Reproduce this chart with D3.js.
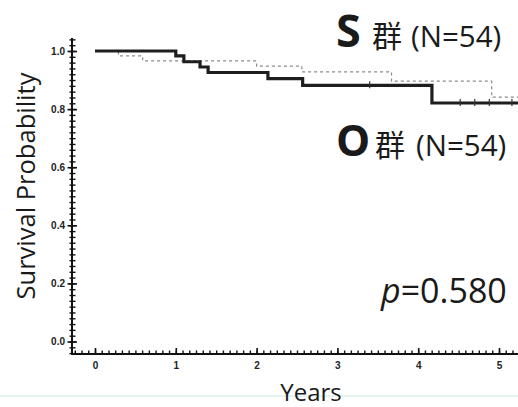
<!DOCTYPE html>
<html>
<head>
<meta charset="utf-8">
<script src="https://cdn.jsdelivr.net/npm/d3@7"></script>
<style>
  body { margin: 0; background: #fff; }
  svg { display: block; }
</style>
</head>
<body>
<div class="km"></div>
<script>
// survival curves (years, survival probability)
var sTimes = [0, 0.29, 0.59, 2.0, 2.56, 3.67, 4.91, 5.25];
var sSurv  = [1.0, 0.983, 0.966, 0.948, 0.928, 0.896, 0.841, 0.841];
var oTimes = [0, 1.0, 1.1, 1.3, 1.4, 2.14, 2.57, 4.17, 5.25];
var oSurv  = [1.0, 0.983, 0.963, 0.945, 0.926, 0.905, 0.882, 0.821, 0.821];
var oCensor = [3.40, 4.52, 4.70, 4.88, 5.16];

var xTicks = [0, 1, 2, 3, 4, 5];
var yTicks = [0.0, 0.2, 0.4, 0.6, 0.8, 1.0];
var groupS = "S", groupO = "O", groupN = "(N=54)", groupWord = "群";
var pText = "=0.580";

var width = 518, height = 407;

var svg = d3.select(".km")
    .append("svg")
    .attr("width", width)
    .attr("height", height);

var x = d3.scaleLinear().domain([0, 5]).range([95, 499]);
var y = d3.scaleLinear().domain([0, 1]).range([341.5, 51]);

var yMax = 1.045;

// faint scan line at the bottom
svg.append("line")
    .attr("x1", 0).attr("x2", width)
    .attr("y1", 396).attr("y2", 396)
    .attr("stroke", "#e4f5f4").attr("stroke-width", 2);

// Y axis: minor ticks every 0.02, major every 0.2
var yMinor = d3.range(-2, 53).map(function (k) { return k / 50; });
var yMin = svg.append("g")
    .attr("transform", "translate(72,0)")
    .call(d3.axisRight(y).tickValues(yMinor).tickSize(3.5).tickFormat(""));
yMin.select(".domain").remove();
yMin.selectAll("line").attr("x1", -2.5).attr("stroke", "#111").attr("stroke-width", 1.4);

var yAxis = svg.append("g")
    .attr("transform", "translate(72,0)")
    .call(d3.axisLeft(y).tickValues(yTicks).tickSize(4).tickPadding(3)
        .tickFormat(d3.format(".1f")));
yAxis.select(".domain").remove();
yAxis.selectAll("line").attr("x2", -4.5).attr("x1", 5).attr("stroke", "#111").attr("stroke-width", 1.6);
yAxis.selectAll("text")
    .style("font-family", "Liberation Sans, Arial, sans-serif")
    .style("font-weight", "bold")
    .style("font-size", "10px")
    .attr("fill", "#222");

svg.append("line")
    .attr("x1", 72).attr("x2", 72)
    .attr("y1", y(yMax)).attr("y2", 354)
    .attr("stroke", "#111").attr("stroke-width", 2);

// X axis: monthly minor ticks, yearly major ticks
var xMinor = d3.range(-3, 64).map(function (m) { return m / 12; });
var xMin = svg.append("g")
    .attr("transform", "translate(0,354)")
    .call(d3.axisTop(x).tickValues(xMinor).tickSize(3.5).tickFormat(""));
xMin.select(".domain").remove();
xMin.selectAll("line").attr("stroke", "#111").attr("stroke-width", 1.4);

var xAxis = svg.append("g")
    .attr("transform", "translate(0,354)")
    .call(d3.axisBottom(x).tickValues(xTicks).tickSize(0).tickPadding(8)
        .tickFormat(d3.format("d")));
xAxis.select(".domain").remove();
xAxis.selectAll(".tick").append("line")
    .attr("y1", -6).attr("y2", 1)
    .attr("stroke", "#111").attr("stroke-width", 1.6);
xAxis.selectAll("text")
    .style("font-family", "Liberation Sans, Arial, sans-serif")
    .style("font-weight", "bold")
    .style("font-size", "10px")
    .attr("fill", "#222");

svg.append("line")
    .attr("x1", 71).attr("x2", width)
    .attr("y1", 354).attr("y2", 354)
    .attr("stroke", "#111").attr("stroke-width", 2);

// survival curves
var line = d3.line()
    .x(function (d) { return x(d[0]); })
    .y(function (d) { return y(d[1]); })
    .curve(d3.curveStepAfter);

svg.append("path")
    .datum(d3.zip(sTimes, sSurv))
    .attr("d", line)
    .attr("fill", "none")
    .attr("stroke", "#8a8a8a")
    .attr("stroke-width", 1.2)
    .attr("stroke-dasharray", "3,3");

svg.append("path")
    .datum(d3.zip(oTimes, oSurv))
    .attr("d", line)
    .attr("fill", "none")
    .attr("stroke", "#1e1e1e")
    .attr("stroke-width", 3.2);

// censor marks sit on the step value at their time
function survAt(t) {
    return oSurv[d3.bisectRight(oTimes, t) - 1];
}
svg.selectAll(".cens")
    .data(oCensor)
    .enter()
    .append("line")
    .attr("class", "cens")
    .attr("x1", function (d) { return x(d); })
    .attr("x2", function (d) { return x(d); })
    .attr("y1", function (d) { return y(survAt(d)) - 4; })
    .attr("y2", function (d) { return y(survAt(d)) + 3; })
    .attr("stroke", "#333").attr("stroke-width", 1.2);

// axis titles
svg.append("text")
    .attr("transform", "translate(35,186) rotate(-90)")
    .attr("text-anchor", "middle")
    .style("font-family", "Open Sans, sans-serif")
    .style("font-size", "25.5px")
    .attr("fill", "#1a1a1a")
    .text("Survival Probability");

svg.append("text")
    .attr("x", 311).attr("y", 401)
    .attr("text-anchor", "middle")
    .style("font-family", "Open Sans, sans-serif")
    .style("font-size", "24px")
    .attr("fill", "#1a1a1a")
    .text("Years");

// group labels
function groupLabel(letter, size, lx, base, cx, nx) {
    var t = svg.append("text").attr("fill", "#1a1a1a");
    t.append("tspan")
        .attr("x", lx).attr("y", base)
        .style("font-family", "Open Sans, sans-serif")
        .style("font-weight", "bold")
        .style("font-size", size + "px")
        .text(letter);
    t.append("tspan")
        .attr("x", cx).attr("y", base)
        .style("font-family", "Noto Sans CJK SC, sans-serif")
        .style("font-size", "30px")
        .text(groupWord);
    t.append("tspan")
        .attr("x", nx).attr("y", base)
        .style("font-family", "Open Sans, sans-serif")
        .style("font-size", "29.5px")
        .text(groupN);
}
groupLabel(groupS, 45, 336, 47, 372, 411);
groupLabel(groupO, 43, 336, 156, 375, 416);

var p = svg.append("text")
    .attr("x", 381).attr("y", 303)
    .style("font-family", "Open Sans, sans-serif")
    .style("font-size", "34px")
    .attr("fill", "#1a1a1a");
p.append("tspan").style("font-style", "italic").text("p");
p.append("tspan").text(pText);
</script>
</body>
</html>
